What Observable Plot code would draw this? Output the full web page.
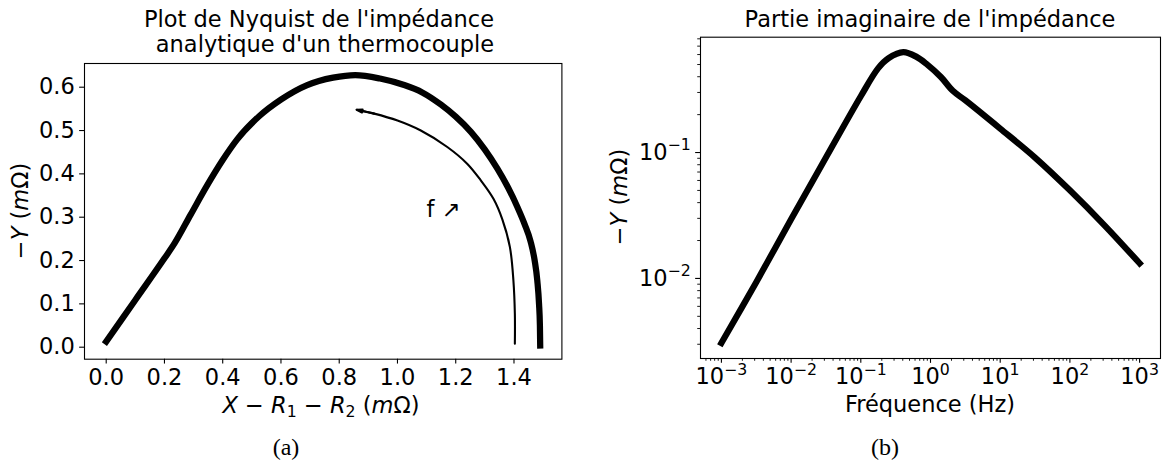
<!DOCTYPE html>
<html><head><meta charset="utf-8">
<script src="https://cdn.jsdelivr.net/npm/d3@7"></script>
<script src="https://cdn.jsdelivr.net/npm/@observablehq/plot@0.6"></script>
<style>
body{margin:0;background:#fff;}
#fig{position:relative;width:1164px;height:469px;overflow:hidden;background:#fff;}
#fig > svg{position:absolute;top:0;}
</style></head><body><div id="fig"></div>
<script>
// ---- Panel (a): Nyquist plot of the analytic impedance ----
const nyqX = [0.000, 0.100, 0.200, 0.235, 0.290, 0.347, 0.400, 0.449, 0.525, 0.601, 0.690, 0.779, 0.855, 0.940, 1.023, 1.085, 1.149, 1.200, 1.252, 1.300, 1.343, 1.380, 1.412, 1.437, 1.457, 1.471, 1.480, 1.486, 1.489, 1.490];
const nyqY = [0.013, 0.109, 0.205, 0.240, 0.306, 0.374, 0.432, 0.479, 0.533, 0.572, 0.605, 0.622, 0.628, 0.620, 0.605, 0.588, 0.560, 0.532, 0.497, 0.456, 0.412, 0.368, 0.323, 0.283, 0.244, 0.200, 0.154, 0.100, 0.050, 0.004];
// annotation arrow "f ↗" (direction of increasing frequency)
const arrowX = [1.403, 1.403, 1.398, 1.386, 1.360, 1.330, 1.286, 1.240, 1.171, 1.080, 1.000, 0.920, 0.860];
const arrowY = [0.008, 0.077, 0.154, 0.231, 0.295, 0.342, 0.385, 0.423, 0.462, 0.500, 0.523, 0.539, 0.548];
const annotText = "f ↗";
const annotPos = [1.1, 0.3];
const xTicksA = [0.0, 0.2, 0.4, 0.6, 0.8, 1.0, 1.2, 1.4];
const yTicksA = [0.0, 0.1, 0.2, 0.3, 0.4, 0.5, 0.6];

// ---- Panel (b): imaginary part vs frequency ----
const freq  = [0.001, 0.00316, 0.01, 0.0316, 0.1, 0.178, 0.251, 0.407, 0.631, 0.891, 1.41, 2.09, 3.16, 10, 31.6, 100, 316, 1000];
const imagY = [0.00307, 0.00933, 0.0295, 0.0912, 0.280, 0.468, 0.562, 0.627, 0.575, 0.501, 0.398, 0.309, 0.260, 0.155, 0.0912, 0.0501, 0.0263, 0.0132];
const xMajorB = [1e-3, 1e-2, 1e-1, 1, 1e1, 1e2, 1e3];
const xMajorLabelsB = ["10⁻³", "10⁻²", "10⁻¹", "10⁰", "10¹", "10²", "10³"];
const yMajorB = [1e-2, 1e-1];
const yMajorLabelsB = ["10⁻²", "10⁻¹"];

// ---- texts ----
const titleA1 = "Plot de Nyquist de l'impédance";
const titleA2 = "analytique d'un thermocouple";
const titleB = "Partie imaginaire de l'impédance";
const xLabelB = "Fréquence (Hz)";
const captionA = "(a)";
const captionB = "(b)";

const FONT = "DejaVu Sans";
const FS = 22.5;
const TICK = 4.86, MINOR = 2.78, PAD = 4.86;

function minorTicks(lo, hi) {
  const out = [];
  for (let e = Math.floor(Math.log10(lo)); e <= Math.ceil(Math.log10(hi)); e++)
    for (let m = 2; m <= 9; m++) { const v = m * 10 ** e; if (v >= lo && v <= hi) out.push(v); }
  return out;
}

const fig = document.getElementById("fig");
const style = {fontFamily: FONT, fontSize: FS + "px", background: "transparent", color: "black", overflow: "visible"};

// Panel (a)
const nyq = nyqX.map((x, i) => ({x, y: nyqY[i]}));
const arr = arrowX.map((x, i) => ({x, y: arrowY[i]}));
const n = arr.length;
const plotA = Plot.plot({
  width: 580, height: 469,
  marginLeft: 84, marginRight: 18.6, marginTop: 63, marginBottom: 110.3,
  x: {domain: [-0.0745, 1.5645]},
  y: {domain: [-0.0277, 0.6547]},
  style,
  marks: [
    Plot.frame({stroke: "black", strokeWidth: 1.1}),
    Plot.axisX({ticks: xTicksA, tickFormat: d3.format(".1f"), tickSize: TICK, tickPadding: PAD, strokeWidth: 1.1, fontSize: FS, label: null}),
    Plot.axisY({ticks: yTicksA, tickFormat: d3.format(".1f"), tickSize: TICK, tickPadding: PAD, strokeWidth: 1.1, fontSize: FS, label: null}),
    Plot.line(nyq, {x: "x", y: "y", stroke: "black", strokeWidth: 6.25, curve: "monotone-x", strokeLinecap: "square", strokeLinejoin: "round"}),
    Plot.line(arr, {x: "x", y: "y", stroke: "black", strokeWidth: 2.1, curve: "catmull-rom"}),
    Plot.arrow([{x1: arr[n - 2].x, y1: arr[n - 2].y, x2: arr[n - 1].x, y2: arr[n - 1].y}],
      {x1: "x1", y1: "y1", x2: "x2", y2: "y2", stroke: "black", strokeWidth: 2.1, headLength: 15, headAngle: 30}),
    Plot.text([{x: annotPos[0], y: annotPos[1], t: annotText}], {x: "x", y: "y", text: "t", textAnchor: "start", lineAnchor: "bottom", fontSize: FS, fill: "black"})
  ]
});
plotA.style.left = "0px";
fig.appendChild(plotA);

// Panel (b)
const xDomB = [10 ** -3.3, 10 ** 3.3];
const yDomB = [10 ** -2.636, 10 ** -0.084];
const im = freq.map((f, i) => ({f, y: imagY[i]}));
const plotB = Plot.plot({
  width: 584, height: 469,
  marginLeft: 120, marginRight: 4, marginTop: 36.7, marginBottom: 111,
  x: {type: "log", domain: xDomB},
  y: {type: "log", domain: yDomB},
  style,
  marks: [
    Plot.frame({stroke: "black", strokeWidth: 1.1}),
    Plot.axisX({ticks: minorTicks(...xDomB), tickSize: MINOR, tickFormat: () => "", strokeWidth: 0.9, label: null}),
    Plot.axisY({ticks: minorTicks(...yDomB), tickSize: MINOR, tickFormat: () => "", strokeWidth: 0.9, label: null}),
    Plot.axisX({ticks: xMajorB, tickFormat: (d) => xMajorLabelsB[xMajorB.indexOf(d)], tickSize: TICK, tickPadding: PAD, strokeWidth: 1.1, fontSize: FS, label: null}),
    Plot.axisY({ticks: yMajorB, tickFormat: (d) => yMajorLabelsB[yMajorB.indexOf(d)], tickSize: TICK, tickPadding: PAD, strokeWidth: 1.1, fontSize: FS, label: null}),
    Plot.line(im, {x: "f", y: "y", stroke: "black", strokeWidth: 6.25, curve: "catmull-rom", strokeLinecap: "square", strokeLinejoin: "round"})
  ]
});
plotB.style.left = "580px";
fig.appendChild(plotB);

// typeset "10⁻³"-style tick labels with a real (smaller, raised) exponent, like mathtext
const supMap = {"⁻": "−", "⁰": "0", "¹": "1", "²": "2", "³": "3", "⁴": "4", "⁵": "5", "⁶": "6", "⁷": "7", "⁸": "8", "⁹": "9"};
const NS = "http://www.w3.org/2000/svg";
plotB.querySelectorAll("text").forEach(t => {
  const s = t.textContent;
  const m = /^10([⁻⁰¹²³⁴⁵⁶⁷⁸⁹]+)$/.exec(s);
  if (!m) return;
  const exp = [...m[1]].map(c => supMap[c]).join("");
  t.textContent = "10";
  const sp = document.createElementNS(NS, "tspan");
  sp.setAttribute("font-size", (FS * 0.7).toFixed(2));
  sp.setAttribute("dy", "-9.5");
  sp.textContent = exp;
  t.appendChild(sp);
});

// Titles, axis labels and captions (overlay, real text)
const ov = document.createElementNS(NS, "svg");
ov.setAttribute("width", 1164); ov.setAttribute("height", 469);
ov.style.left = "0px"; ov.style.pointerEvents = "none";
ov.setAttribute("font-family", FONT); ov.setAttribute("font-size", FS); ov.setAttribute("fill", "black");
fig.appendChild(ov);
function txt(x, y, parts, opts = {}) {
  const t = document.createElementNS(NS, "text");
  t.setAttribute("x", x); t.setAttribute("y", y);
  t.setAttribute("text-anchor", opts.anchor || "middle");
  if (opts.rotate) t.setAttribute("transform", `rotate(${opts.rotate},${x},${y})`);
  if (opts.family) t.setAttribute("font-family", opts.family);
  if (opts.size) t.setAttribute("font-size", opts.size);
  t.style.whiteSpace = "pre";
  for (const p of (typeof parts === "string" ? [[parts]] : parts)) {
    const s = document.createElementNS(NS, "tspan");
    s.textContent = p[0];
    const o = p[1] || {};
    if (o.i) s.setAttribute("font-style", "italic");
    if (o.size) s.setAttribute("font-size", o.size);
    if (o.dy) s.setAttribute("dy", o.dy);
    t.appendChild(s);
  }
  ov.appendChild(t);
  return t;
}
txt(319, 27, titleA1);
txt(325, 52, titleA2);
txt(930, 27, titleB);
// x label (a): X − R1 − R2 (mΩ)
txt(321, 413, [["X", {i: 1}], [" − "], ["R", {i: 1}], ["1", {size: 15.75, dy: 4}], [" − ", {dy: -4}], ["R", {i: 1}], ["2", {size: 15.75, dy: 4}], [" (", {dy: -4}], ["m", {i: 1}], ["Ω)"]]);
txt(930, 412, xLabelB);
// y labels: −Y (mΩ)
const yLab = [["−"], ["Y", {i: 1}], [" ("], ["m", {i: 1}], ["Ω)"]];
txt(28, 211, yLab, {rotate: -90});
txt(627, 197, yLab, {rotate: -90});
txt(286, 455, captionA, {family: "Liberation Serif", size: 24});
txt(885, 455, captionB, {family: "Liberation Serif", size: 24});
</script></body></html>
